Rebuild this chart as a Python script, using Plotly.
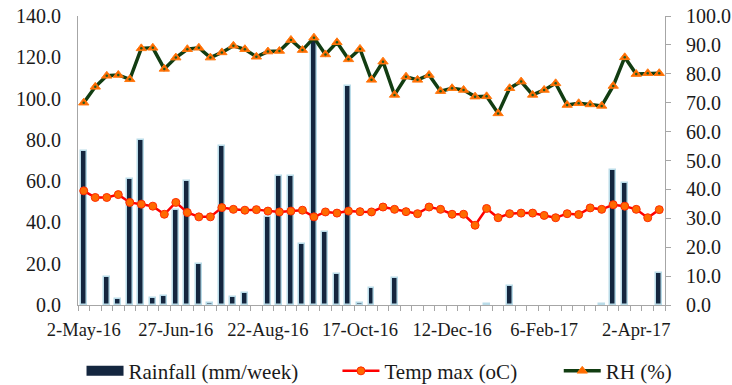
import plotly.graph_objects as go

n_weeks = 51
week_idx = list(range(n_weeks))
tick_pos = [0, 8, 16, 24, 32, 40, 48]
tick_labels = ["2-May-16", "27-Jun-16", "22-Aug-16", "17-Oct-16", "12-Dec-16", "6-Feb-17", "2-Apr-17"]

rainfall = [74.4, 0, 13.7, 2.8, 61.0, 80.1, 3.5, 4.4, 45.8, 60.2,
            19.9, 1.1, 76.8, 4.0, 5.8, 0, 42.6, 62.3, 62.3, 29.6,
            128.0, 35.6, 15.0, 106.3, 1.1, 8.1, 0, 13.0, 0, 0,
            0, 0, 0, 0, 0, 0.3, 0, 9.2, 0, 0,
            0, 0, 0, 0, 0, 0.3, 65.5, 59.1, 0, 0, 15.4]

temp_max = [39.5, 37.2, 37.2, 38.2, 35.5, 34.9, 34.2, 31.4, 35.5, 32.0,
            30.5, 30.5, 33.7, 33.1, 32.8, 33.0, 32.5, 32.2, 32.5, 32.8,
            30.5, 32.2, 31.8, 32.5, 32.3, 32.2, 33.9, 33.1, 32.3, 31.6,
            33.9, 33.1, 31.4, 31.4, 27.6, 33.4, 30.2, 31.6, 31.8, 31.8,
            31.0, 30.2, 31.6, 31.3, 33.6, 33.1, 34.7, 34.2, 33.1, 30.2, 33.0]

rh = [70.0, 75.5, 79.3, 79.6, 78.1, 88.8, 89.0, 81.7, 85.6, 88.5,
      89.0, 85.6, 87.4, 89.7, 88.5, 85.9, 87.7, 87.9, 91.7, 88.2,
      92.5, 86.7, 90.9, 85.0, 88.6, 77.9, 84.2, 72.7, 79.0, 77.9,
      79.6, 74.0, 75.0, 74.4, 72.1, 72.2, 66.3, 75.0, 77.3, 72.7,
      74.4, 76.7, 69.2, 69.8, 69.4, 68.9, 75.8, 85.7, 79.9, 80.2, 80.2]

# zero rainfall weeks draw no bar
rain_plot = [v if v > 0 else None for v in rainfall]

FONT = "Liberation Serif"
NAVY = "#14263f"

fig = go.Figure()
fig.add_trace(go.Bar(
    x=week_idx, y=rain_plot, name="Rainfall (mm/week)", showlegend=False,
    marker=dict(color=NAVY, line=dict(color="#b9dbe8", width=1.5)),
    width=0.52, yaxis="y"))
# legend swatch for rainfall (wide navy block, as in the reference)
fig.add_trace(go.Scatter(
    x=[None], y=[None], name="Rainfall (mm/week)", mode="lines",
    line=dict(color=NAVY, width=11), legend="legend", hoverinfo="skip"))
fig.add_trace(go.Scatter(
    x=week_idx, y=temp_max, name="Temp max (oC)", mode="lines+markers",
    line=dict(color="#ff0000", width=2.5),
    marker=dict(symbol="circle", size=8, color="#ff6a00", line=dict(color="#ff2a00", width=1)),
    yaxis="y2", legend="legend2"))
fig.add_trace(go.Scatter(
    x=week_idx, y=rh, name="RH (%)", mode="lines+markers",
    line=dict(color="#123d12", width=3.5),
    marker=dict(symbol="triangle-up", size=9, color="#ff6a00", line=dict(color="#ff7a10", width=1)),
    yaxis="y2", legend="legend3"))
fig.add_trace(go.Scatter(
    x=week_idx, y=rh, mode="markers", showlegend=False, hoverinfo="skip",
    marker=dict(symbol="circle", size=2.5, color="#1f5a1f"), yaxis="y2"))

leg_common = dict(orientation="h", xanchor="left", y=-0.229, yanchor="middle",
                  font=dict(family=FONT, size=21, color="#1a1a1a"),
                  itemwidth=37, bgcolor="rgba(0,0,0,0)", borderwidth=0)

fig.update_layout(
    width=732, height=385,
    margin=dict(l=78, r=67, t=16, b=80, autoexpand=False),
    paper_bgcolor="white", plot_bgcolor="white",
    font=dict(family=FONT, size=18, color="#1a1a1a"),
    bargap=0,
    showlegend=True,
    legend=dict(x=0.006, **leg_common),
    legend2=dict(x=0.442, **leg_common),
    legend3=dict(x=0.819, **leg_common),
    xaxis=dict(range=[-0.5, 50.5], tickmode="array", tickvals=tick_pos, ticktext=tick_labels,
               showline=True, linecolor="#a6a6a6", linewidth=1, ticks="", showgrid=False,
               zeroline=False, tickfont=dict(family=FONT, size=18.5), ticklabelstandoff=8,
               minor=dict(tickmode="linear", tick0=-0.5, dtick=1, ticks="outside",
                          ticklen=5, tickcolor="#a6a6a6", showgrid=False)),
    yaxis=dict(range=[0, 140], dtick=20, tickformat=".1f", showline=True, linecolor="#a6a6a6",
               showgrid=False, zeroline=False, ticks="", tickfont=dict(family=FONT, size=20),
               ticklabelstandoff=12),
    yaxis2=dict(range=[0, 100], dtick=10, tickformat=".1f", overlaying="y", side="right",
                showline=True, linecolor="#a6a6a6", showgrid=False, zeroline=False,
                ticks="outside", ticklen=5, tickcolor="#a6a6a6",
                tickfont=dict(family=FONT, size=20), ticklabelstandoff=11),
)

fig.write_html("out.html")
